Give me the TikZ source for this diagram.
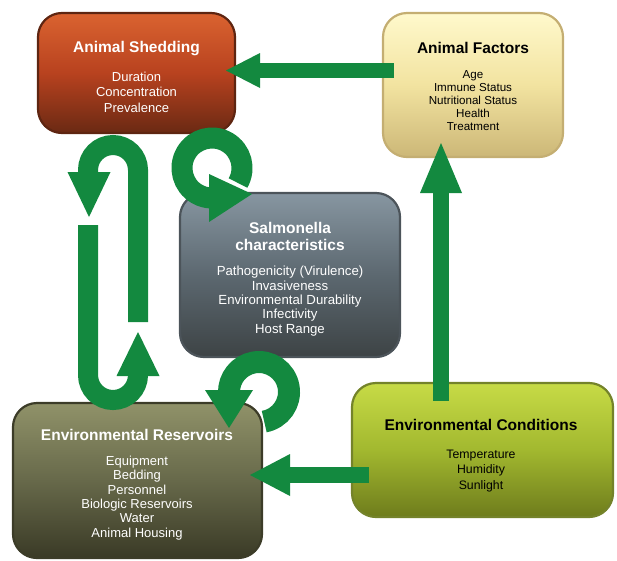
\documentclass[tikz,border=0pt]{standalone}
\usepackage{fontspec}
\setmainfont{Liberation Sans}
\usetikzlibrary{calc}
\definecolor{agreen}{HTML}{13893F}
\definecolor{asTop}{HTML}{DA6330}
\definecolor{asMid}{HTML}{B8421F}
\definecolor{asBot}{HTML}{6A2913}
\definecolor{asBrd}{HTML}{5E2511}
\definecolor{afTop}{HTML}{FFF9CC}
\definecolor{afMid}{HTML}{F2E3A0}
\definecolor{afBot}{HTML}{CCB777}
\definecolor{afBrd}{HTML}{C4AE72}
\definecolor{saTop}{HTML}{8796A1}
\definecolor{saMid}{HTML}{5C6870}
\definecolor{saBot}{HTML}{3D4345}
\definecolor{saBrd}{HTML}{4C545A}
\definecolor{erTop}{HTML}{909269}
\definecolor{erMid}{HTML}{67694A}
\definecolor{erBot}{HTML}{3A3A26}
\definecolor{erBrd}{HTML}{3C3C28}
\definecolor{ecTop}{HTML}{C7DB46}
\definecolor{ecMid}{HTML}{A2B82F}
\definecolor{ecBot}{HTML}{6E7C1C}
\definecolor{ecBrd}{HTML}{74832A}
\begin{document}
\begin{tikzpicture}[x=1pt,y=-1pt,
  box/.style={rounded corners=24pt, line width=2.2pt, inner sep=0pt},
  ttl/.style={font=\fontsize{15.5}{17}\selectfont\bfseries, align=center, inner sep=0pt},
  itm/.style={align=center, inner sep=0pt},
  arr/.style={draw=agreen, line width=#1},
  head/.style={fill=agreen}
]
\useasboundingbox (0,0) rectangle (617,560);

% boxes
\node[box, minimum width=197pt, minimum height=120pt, draw=asBrd,
      top color=asTop, bottom color=asBot, middle color=asMid] (as) at (136.5,73) {};
\node[box, minimum width=180pt, minimum height=144pt, draw=afBrd,
      top color=afTop, bottom color=afBot, middle color=afMid] (af) at (473,85) {};
\node[box, minimum width=220pt, minimum height=164pt, draw=saBrd,
      top color=saTop, bottom color=saBot, middle color=saMid] (sal) at (290,275) {};
\node[box, minimum width=249pt, minimum height=155pt, draw=erBrd,
      top color=erTop, bottom color=erBot, middle color=erMid] (er) at (137.5,480.5) {};
\node[box, minimum width=261pt, minimum height=134pt, draw=ecBrd,
      top color=ecTop, bottom color=ecBot, middle color=ecMid] (ec) at (482.5,450) {};

% texts
\node[ttl, text=white, anchor=base] (asTitle) at (136.5,52) {Animal Shedding};
\node[itm, text=white, font=\fontsize{13}{15.5}\selectfont] (asItems) at (136.5,92)
  {Duration\\Concentration\\Prevalence};

\node[ttl, text=black, anchor=base] (afTitle) at (473,53) {Animal Factors};
\node[itm, text=black, font=\fontsize{11.6}{13}\selectfont] (afItems) at (473,101)
  {Age\\Immune Status\\Nutritional Status\\Health\\Treatment};

\node[ttl, text=white] (salTitle) at (290,236.5) {Salmonella\\characteristics};
\node[itm, text=white, font=\fontsize{13.2}{14.3}\selectfont] (salItems) at (290,301)
  {Pathogenicity (Virulence)\\Invasiveness\\Environmental Durability\\Infectivity\\Host Range};

\node[ttl, text=white, anchor=base] (erTitle) at (137,440) {Environmental Reservoirs};
\node[itm, text=white, font=\fontsize{13}{14.4}\selectfont] (erItems) at (137,498)
  {Equipment\\Bedding\\Personnel\\Biologic Reservoirs\\Water\\Animal Housing};

\node[ttl, text=black, anchor=base] (ecTitle) at (481,430) {Environmental Conditions};
\node[itm, text=black, font=\fontsize{12.3}{15.5}\selectfont] (ecItems) at (481,471)
  {Temperature\\Humidity\\Sunlight};

% arrow: Animal Factors -> Animal Shedding
\coordinate (a1tip) at (226,70.5);
\coordinate (a1base) at (260,70.5);
\draw[arr=15] ($(af.west|-a1base)+(12,0)$) -- ($(a1base)+(-1,0)$);
\fill[head] (a1tip) -- ($(a1base)+(0,-17.5)$) -- ($(a1base)+(0,17.5)$) -- cycle;

% arrow: Environmental Conditions -> Animal Factors
\coordinate (a2tip) at (441,143);
\coordinate (a2base) at (441,193);
\draw[arr=16] ($(ec.north-|a2base)+(0,19)$) -- ($(a2base)+(0,-1)$);
\fill[head] (a2tip) -- ($(a2base)+(-21,0)$) -- ($(a2base)+(21,0)$) -- cycle;

% arrow: Environmental Conditions -> Environmental Reservoirs
\coordinate (a3tip) at (250,475);
\coordinate (a3base) at (290,475);
\draw[arr=16] ($(ec.west|-a3base)+(18,0)$) -- ($(a3base)+(-1,0)$);
\fill[head] (a3tip) -- ($(a3base)+(0,-21)$) -- ($(a3base)+(0,21)$) -- cycle;

% ring arrow: Animal Shedding -> Salmonella
\coordinate (r1) at (212,168);
\coordinate (r1tip) at (252,194);
\draw[arr=21] ($(r1)+(-30:30pt)$) arc[start angle=-30, end angle=268, radius=30pt];
\fill[head] (r1tip) -- (209,174) -- (209,222) -- cycle;

% ring arrow: Salmonella -> Environmental Reservoirs
\coordinate (r2) at (259,392);
\coordinate (r2tip) at (229,428);
\draw[arr=22] ($(r2)+(-80:30pt)$) arc[start angle=-80, end angle=182, radius=30pt];
\fill[head] (r2tip) -- (205,390) -- (253,390) -- cycle;

% U arrows between Animal Shedding and Environmental Reservoirs
\coordinate (u1start) at (138,322);
\coordinate (u1tip) at (89,217);
\draw[arr=20] (u1start) -- (138,170) arc[start angle=0, end angle=180, radius=25pt] -- (88,173);
\fill[head] (u1tip) -- (67.5,172) -- (110.5,172) -- cycle;

\coordinate (u2start) at (88,225);
\coordinate (u2tip) at (138,332);
\draw[arr=20] (u2start) -- (88,375) arc[start angle=180, end angle=360, radius=25pt] -- (138,373);
\fill[head] (u2tip) -- (116.5,376) -- (159.5,376) -- cycle;
\end{tikzpicture}
\end{document}
